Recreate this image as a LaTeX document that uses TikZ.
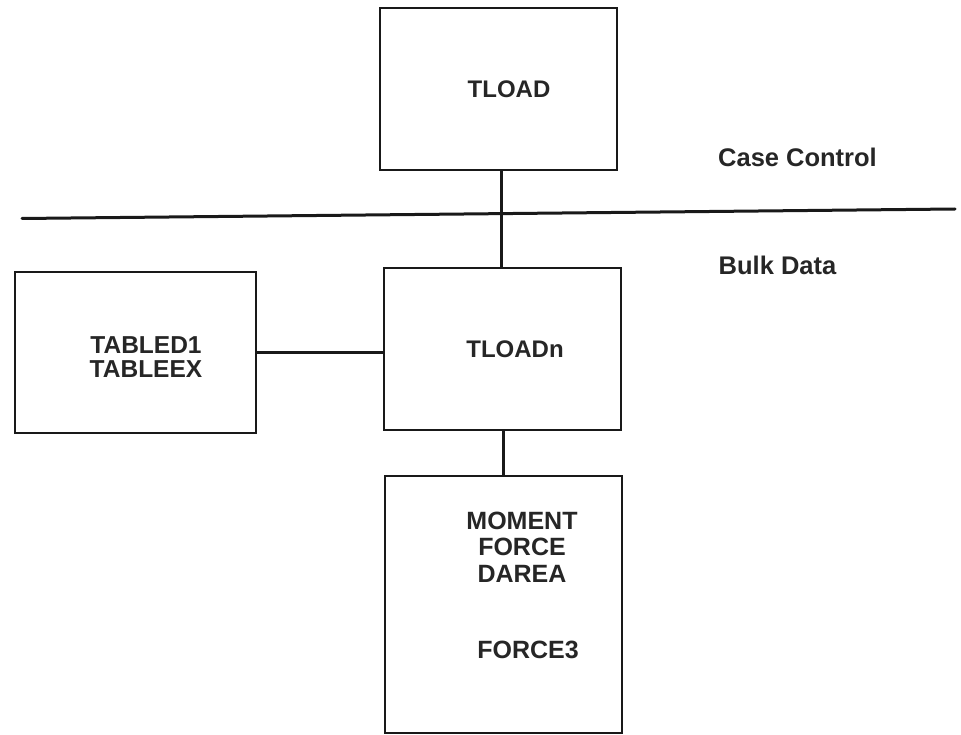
\documentclass[tikz,border=0pt]{standalone}
\usepackage{fontspec}
\setmainfont{Liberation Sans}
\begin{document}
\begin{tikzpicture}[x=1pt,y=-1pt,
  box/.style={draw=black!90,line width=1.8pt,rectangle,inner sep=0pt},
  lbl/.style={font=\fontsize{24}{24}\selectfont\bfseries,text=black!85,align=center,inner sep=0pt},
  side/.style={font=\fontsize{25.5}{26}\selectfont\bfseries,text=black!85,inner sep=0pt},
  conn/.style={draw=black!90,line width=3pt}]
\useasboundingbox (0,0) rectangle (961,735);
% boxes
\node[box,minimum width=237pt,minimum height=162pt] (tload) at (498.5,89) {};
\node[box,minimum width=237pt,minimum height=162pt] (tloadn) at (502.5,349) {};
\node[box,minimum width=241pt,minimum height=161pt] (table) at (135.5,352.5) {};
\node[box,minimum width=237pt,minimum height=257pt] (load) at (503.5,604.5) {};
% texts
\node[lbl] (t1) at (509,89) {TLOAD};
\node[lbl] (t2) at (515,349) {TLOADn};
\node[lbl,font=\fontsize{24.5}{24}\selectfont\bfseries] (t3) at (146,357) {TABLED1\\TABLEEX};
\node[lbl,font=\fontsize{25}{26.5}\selectfont\bfseries] (t4) at (522,547) {MOMENT\\FORCE\\DAREA};
\node[lbl,font=\fontsize{25}{26.5}\selectfont\bfseries] (t5) at (528,650) {FORCE3};
\node[side] (cc) at (797.5,157) {Case Control};
\node[side] (bd) at (777.5,265) {Bulk Data};
% separator
\coordinate (sepL) at (22,218.5);
\coordinate (sepR) at (955,209);
\draw[conn,line cap=round] (sepL) -- (sepR);
% connectors
\coordinate (v1) at (501,0);
\draw[conn] (tload.south -| v1) -- (tloadn.north -| v1);
\draw[conn] (table.east) -- (table.east -| tloadn.west);
\draw[conn] (tloadn.south -| load.north) -- (load.north);
\end{tikzpicture}
\end{document}
